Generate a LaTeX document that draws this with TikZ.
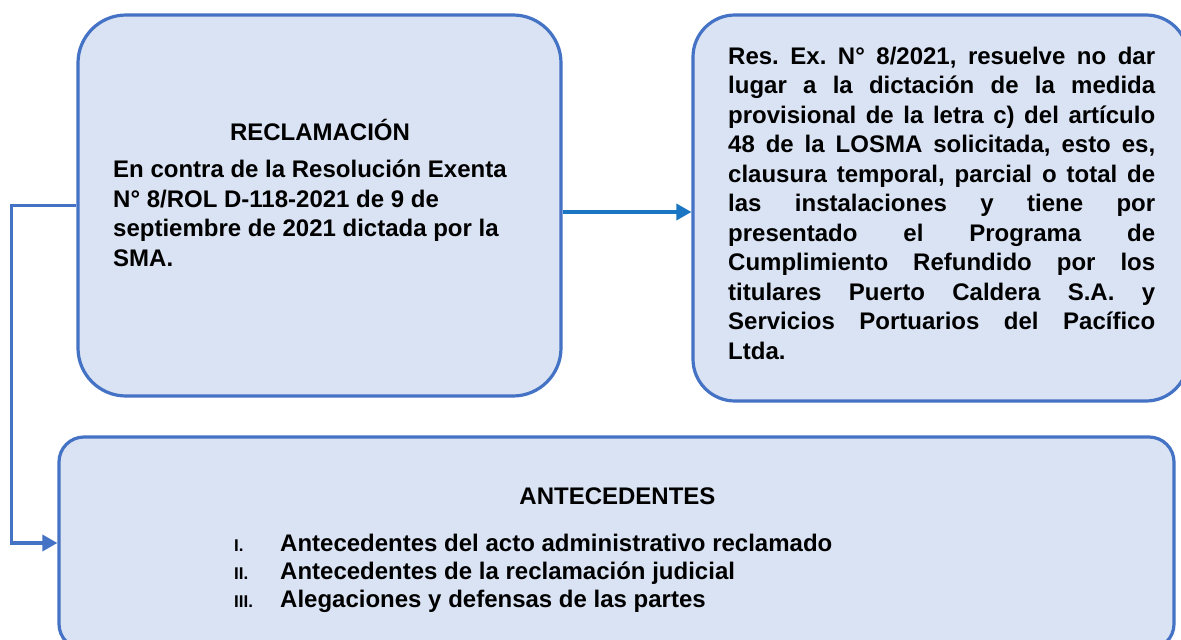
\documentclass[tikz,border=0pt]{standalone}
\usepackage{fontspec}
\setmainfont{Liberation Sans}
\usetikzlibrary{arrows.meta}
\definecolor{boxfill}{HTML}{DAE3F3}
\definecolor{boxline}{HTML}{4472C4}
\definecolor{arrowblue}{HTML}{1A75C2}
\frenchspacing
\begin{document}
\begin{tikzpicture}[x=1pt,y=-1pt,
  panel/.style={draw=boxline, fill=boxfill, line width=3.2pt, rectangle, inner sep=0pt},
  txt/.style={font=\fontsize{24}{29.5}\selectfont\bfseries, inner sep=0pt, text=black},
  num/.style={font=\fontsize{17}{20}\selectfont\bfseries, inner sep=0pt, text=black},
  link/.style={draw=boxline, line width=3.4pt, -{Triangle[length=15pt,width=16pt]}},
  midlink/.style={draw=arrowblue, line width=3.5pt, -{Triangle[length=15pt,width=16pt]}}]
\useasboundingbox (0,0) rectangle (1181,640);
\fill[white] (0,0) rectangle (1181,640);

\node[panel, rounded corners=48pt, minimum width=483pt, minimum height=381pt] (L) at (319.5,205.5) {};
\node[panel, rounded corners=42pt, minimum width=495pt, minimum height=386pt] (R) at (940.5,208) {};
\node[panel, rounded corners=25pt, minimum width=1115pt, minimum height=212pt] (B) at (616.5,543) {};

% left box text
\node[txt, anchor=base] (ltitle) at (320,140.6) {RECLAMACIÓN};
\foreach \t [count=\i] in {{En contra de la Resolución Exenta},{N° 8/ROL D-118-2021 de 9 de},{septiembre de 2021 dictada por la},{SMA.}}
  \node[txt, anchor=base west] (l\i) at (113,{177.5+29.6*(\i-1)}) {\t};

% right box text
\foreach \t [count=\i] in {{Res. Ex. N° 8/2021, resuelve no dar},{lugar a la dictación de la medida},{provisional de la letra c) del artículo},{48 de la LOSMA solicitada, esto es,},{clausura temporal, parcial o total de},{las instalaciones y tiene por},{presentado el Programa de},{Cumplimiento Refundido por los},{titulares Puerto Caldera S.A. y},{Servicios Portuarios del Pacífico}}
  \node[txt, anchor=base west] (r\i) at (728,{64+29.5*(\i-1)}) {\makebox[427pt][s]{\t}};
\node[txt, anchor=base west] (r11) at (728,359) {Ltda.};

% bottom box text
\node[txt, anchor=base] (btitle) at (617.5,504) {ANTECEDENTES};
\foreach \n/\t [count=\i] in {I./{Antecedentes del acto administrativo reclamado},II./{Antecedentes de la reclamación judicial},III./{Alegaciones y defensas de las partes}}{
  \node[num, anchor=base west] (n\i) at (234,{551.6+28*(\i-1)}) {\n};
  \node[txt, anchor=base west] (b\i) at (280,{551.6+28*(\i-1)}) {\t};
}

% connectors
\coordinate (bend) at (11.5,205.5);
\draw[link] (L.west) -- (bend) |- (B.west);
\coordinate (ms) at ([yshift=-6.5pt]L.east);
\draw[midlink] (ms) -- (ms -| R.west);
\end{tikzpicture}
\end{document}
